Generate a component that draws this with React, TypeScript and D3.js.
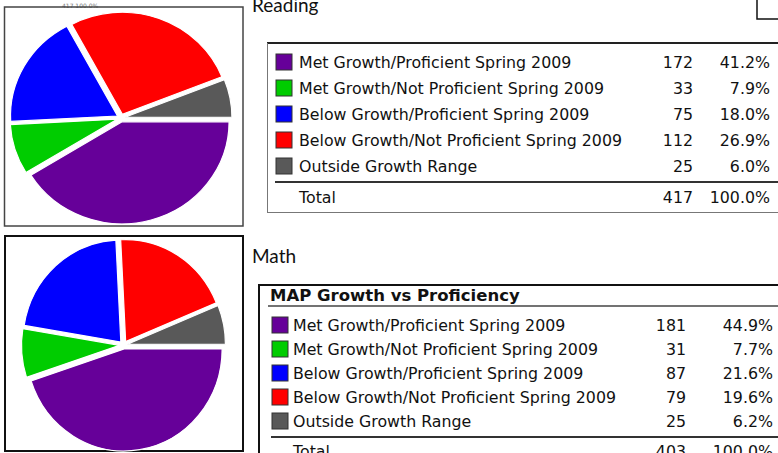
import React from "react";
import * as d3 from "d3";

// Category names shared by both subjects
const categories = [
  "Met Growth/Proficient Spring 2009",
  "Met Growth/Not Proficient Spring 2009",
  "Below Growth/Proficient Spring 2009",
  "Below Growth/Not Proficient Spring 2009",
  "Outside Growth Range",
];
const colors = ["#660099", "#00cc00", "#0000ff", "#ff0000", "#595959"];

// Student counts per category
const readingCounts = [172, 33, 75, 112, 25];
const mathCounts = [181, 31, 87, 79, 25];

const pctFormat = d3.format(".1%");
const FONT = "'DejaVu Sans', Tahoma, sans-serif";
const TITLE_FONT = "Lato, 'Open Sans', sans-serif";

/** Exploded pie, slightly stretched like the original screenshot. */
function Pie({ counts, cx, cy, rx, ry, explode }) {
  const pie = d3
    .pie<number>()
    .sort(null)
    .startAngle(Math.PI / 2)
    .endAngle(Math.PI / 2 + 2 * Math.PI);
  const arc = d3.arc<d3.PieArcDatum<number>>().innerRadius(0).outerRadius(rx);
  const slices = pie(counts);
  return (
    <g>
      {slices.map((s, i) => {
        const mid = (s.startAngle + s.endAngle) / 2;
        const dx = explode * Math.sin(mid);
        const dy = -explode * Math.cos(mid);
        return (
          <path
            key={i}
            d={arc(s) || ""}
            transform={`translate(${cx + dx},${cy + dy}) scale(1,${ry / rx})`}
            fill={colors[i]}
            stroke="#ffffff"
            strokeWidth={1.2}
            vectorEffect="non-scaling-stroke"
          />
        );
      })}
    </g>
  );
}

/** Legend table with counts and percentages. */
function Table({ counts, rowY, squareX, labelX, countX, pctX, sepY, totalY }) {
  const total = d3.sum(counts);
  return (
    <g fontFamily={FONT} fontSize={15.8} fill="#111">
      {counts.map((c, i) => (
        <g key={i}>
          <rect
            x={squareX}
            y={rowY(i) - 8}
            width={16}
            height={16}
            fill={colors[i]}
            stroke="#333"
            strokeWidth={1}
          />
          <text x={labelX} y={rowY(i) + 5.5}>
            {categories[i]}
          </text>
          <text x={countX} y={rowY(i) + 5.5} textAnchor="end">
            {c}
          </text>
          <text x={pctX} y={rowY(i) + 5.5} textAnchor="end">
            {pctFormat(c / total)}
          </text>
        </g>
      ))}
      <line x1={squareX - 1} x2={778} y1={sepY} y2={sepY} stroke="#333" strokeWidth={2} />
      <text x={labelX} y={totalY + 5.5}>
        Total
      </text>
      <text x={countX} y={totalY + 5.5} textAnchor="end">
        {total}
      </text>
      <text x={pctX} y={totalY + 5.5} textAnchor="end">
        {pctFormat(1)}
      </text>
    </g>
  );
}

export default function App() {
  const readingRow = d3.scaleLinear().domain([0, 1]).range([62, 88]);
  const mathRow = d3.scaleLinear().domain([0, 1]).range([325, 349]);

  return (
    <svg
      width={778}
      height={453}
      style={{ position: "absolute", left: 0, top: 0, background: "#fff" }}
    >
      {/* Reading pie panel */}
      <text x={62} y={8} fontFamily={FONT} fontSize={6} fill="#777">
        417 100.0%
      </text>
      <rect x={4.5} y={7} width={238.5} height={219} fill="none" stroke="#444" strokeWidth={1.5} />
      <Pie counts={readingCounts} cx={121} cy={118} rx={107} ry={102} explode={4} />

      {/* Math pie panel */}
      <rect x={5} y={236} width={238} height={215} fill="none" stroke="#111" strokeWidth={2} />
      <Pie counts={mathCounts} cx={123.5} cy={345} rx={98} ry={102} explode={4} />

      {/* Section titles */}
      <text x={252} y={12} fontFamily={TITLE_FONT} fontSize={19} fill="#111">
        Reading
      </text>
      <text x={252} y={263} fontFamily={TITLE_FONT} fontSize={19} fill="#111">
        Math
      </text>
      <path d="M757,0 V19 H778" fill="none" stroke="#111" strokeWidth={1.5} />

      {/* Reading legend table */}
      <line x1={267} x2={778} y1={43} y2={43} stroke="#222" strokeWidth={2} />
      <line x1={267.5} x2={267.5} y1={43} y2={213} stroke="#777" strokeWidth={1} />
      <line x1={267} x2={778} y1={212.5} y2={212.5} stroke="#777" strokeWidth={1} />
      <Table
        counts={readingCounts}
        rowY={readingRow}
        squareX={276}
        labelX={299}
        countX={693}
        pctX={770}
        sepY={182}
        totalY={197}
      />

      {/* Math legend table */}
      <path d="M259,453 V285 H778" fill="none" stroke="#111" strokeWidth={2} />
      <text x={270} y={301} fontFamily={FONT} fontSize={16.5} fontWeight="bold" fill="#111">
        MAP Growth vs Proficiency
      </text>
      <line x1={268} x2={778} y1={306} y2={306} stroke="#444" strokeWidth={1.5} />
      <Table
        counts={mathCounts}
        rowY={mathRow}
        squareX={272}
        labelX={293}
        countX={686}
        pctX={773}
        sepY={437}
        totalY={451}
      />
    </svg>
  );
}
